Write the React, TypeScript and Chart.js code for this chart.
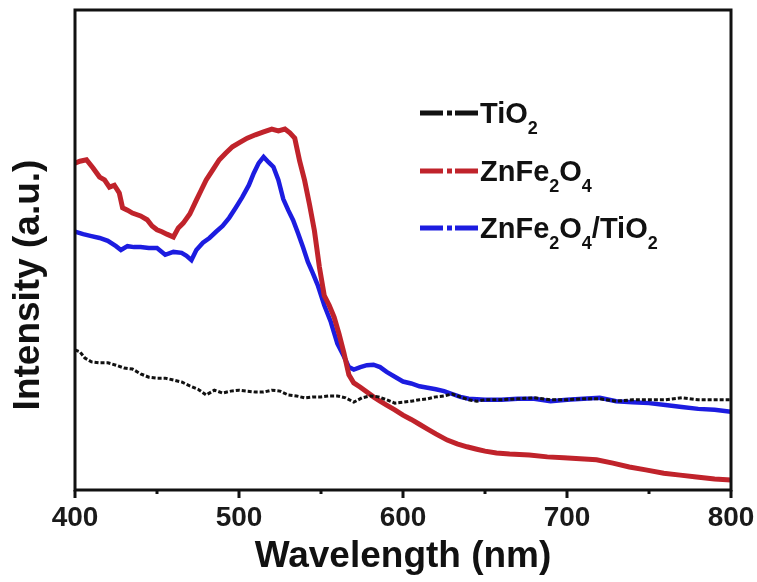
import React, { useEffect, useRef } from "react";
import { Chart, registerables } from "chart.js";
Chart.register(...registerables);

const FONT = '"Liberation Sans", Arial, sans-serif';

const xTitle = "Wavelength (nm)";
const yTitle = "Intensity (a.u.)";
const xMin = 400;
const xMax = 800;
const majorTicks = [400, 500, 600, 700, 800];
const minorTicks = [450, 550, 650, 750];

const tio2X = [400, 403, 406, 410, 415, 420, 425, 430, 435, 440, 445, 450, 455, 460, 465, 470, 475, 480, 485, 490, 495, 500, 505, 510, 515, 520, 525, 530, 535, 540, 545, 550, 555, 560, 565, 570, 575, 580, 585, 590, 595, 600, 605, 610, 615, 620, 625, 630, 635, 640, 645, 650, 660, 670, 680, 690, 700, 710, 720, 730, 740, 750, 760, 770, 780, 790, 800];
const tio2Y = [29.2, 28.8, 27.5, 26.7, 26.5, 26.5, 26.0, 25.4, 25.2, 24.2, 23.5, 23.3, 23.3, 22.9, 22.5, 21.7, 21.0, 19.8, 20.8, 20.2, 20.6, 20.8, 20.6, 20.4, 20.4, 20.8, 20.6, 19.8, 19.6, 19.2, 19.4, 19.4, 19.6, 19.6, 19.2, 18.3, 19.2, 19.6, 19.4, 18.8, 18.1, 18.3, 18.5, 18.8, 19.0, 19.4, 19.6, 20.0, 19.4, 18.8, 18.5, 18.8, 18.8, 19.0, 19.2, 18.8, 18.8, 19.0, 19.0, 18.5, 18.8, 18.8, 18.8, 19.2, 18.8, 18.8, 18.8];

const znfeX = [400, 403, 407, 411, 415, 418, 421, 424, 427, 429, 432, 435, 440, 444, 447, 450, 453, 456, 460, 463, 466, 470, 474, 477, 480, 484, 488, 492, 496, 500, 505, 510, 515, 520, 524, 528, 531, 534, 537, 540, 543, 546, 549, 552, 555, 558, 561, 564, 567, 570, 574, 578, 582, 586, 590, 595, 600, 605, 610, 615, 620, 627, 633, 639, 645, 650, 657, 665, 677, 688, 698, 708, 718, 728, 738, 748, 759, 769, 779, 790, 800];
const znfeY = [68.1, 68.5, 68.8, 67.1, 65.2, 64.6, 63.1, 63.5, 61.9, 58.8, 58.3, 57.7, 57.1, 56.3, 55.0, 54.2, 53.8, 53.3, 52.7, 54.6, 55.6, 57.5, 60.4, 62.5, 64.6, 66.7, 68.8, 70.2, 71.5, 72.3, 73.3, 74.0, 74.6, 75.2, 74.8, 75.2, 74.4, 73.3, 68.5, 64.5, 59.5, 54.0, 46.5, 40.5, 38.5, 36.0, 32.5, 28.5, 24.0, 22.3, 21.4, 20.4, 19.4, 18.5, 17.7, 16.7, 15.6, 14.7, 13.7, 12.7, 11.7, 10.4, 9.6, 9.0, 8.5, 8.1, 7.7, 7.5, 7.3, 6.9, 6.7, 6.5, 6.3, 5.6, 4.8, 4.2, 3.5, 3.1, 2.7, 2.3, 2.1];

const compX = [400, 405, 410, 415, 420, 425, 428, 432, 436, 440, 445, 450, 455, 460, 465, 468, 471, 474, 478, 482, 486, 490, 494, 498, 502, 506, 509, 512, 515, 518, 521, 524, 527, 530, 533, 536, 539, 542, 545, 548, 552, 556, 560, 564, 567, 570, 574, 578, 582, 586, 590, 595, 600, 605, 610, 615, 620, 625, 630, 635, 640, 650, 660, 670, 680, 690, 700, 710, 720, 730, 740, 750, 760, 770, 780, 790, 800];
const compY = [53.8, 53.3, 52.9, 52.5, 51.9, 50.8, 50.0, 50.8, 50.6, 50.6, 50.4, 50.4, 49.0, 49.6, 49.4, 48.8, 47.9, 50.0, 51.5, 52.5, 53.8, 55.0, 56.7, 58.8, 61.0, 63.5, 66.0, 68.1, 69.4, 68.3, 67.3, 64.6, 60.6, 58.3, 56.2, 53.5, 50.6, 47.5, 45.2, 42.7, 38.5, 35.0, 30.5, 27.8, 25.6, 25.1, 25.6, 26.0, 26.1, 25.6, 24.6, 23.6, 22.6, 22.2, 21.6, 21.3, 21.0, 20.6, 20.0, 19.4, 19.0, 18.8, 18.8, 19.0, 19.0, 18.5, 18.8, 19.0, 19.2, 18.5, 18.3, 18.1, 17.7, 17.3, 16.9, 16.7, 16.3];

const seriesNames = ["TiO2", "ZnFe2O4", "ZnFe2O4/TiO2"];
const seriesColors = ["#111111", "#c0232b", "#1c1ce0"];
// legend labels as [text, isSubscript] parts
const legendParts: [string, boolean][][] = [
  [["TiO", false], ["2", true]],
  [["ZnFe", false], ["2", true], ["O", false], ["4", true]],
  [["ZnFe", false], ["2", true], ["O", false], ["4", true], ["/TiO", false], ["2", true]],
];

function pts(xs: number[], ys: number[]) {
  return xs.map((x, i) => ({ x, y: ys[i] }));
}

const overlay = {
  id: "overlay",
  afterDraw(chart: any) {
    const { ctx, chartArea, scales } = chart;
    const xs = scales.x;
    ctx.save();
    // frame
    ctx.strokeStyle = "#111";
    ctx.lineWidth = 3;
    ctx.strokeRect(chartArea.left, chartArea.top, chartArea.right - chartArea.left, chartArea.bottom - chartArea.top);
    // ticks
    ctx.lineWidth = 3;
    majorTicks.forEach((v) => {
      const px = xs.getPixelForValue(v);
      ctx.beginPath();
      ctx.moveTo(px, chartArea.bottom);
      ctx.lineTo(px, chartArea.bottom + 8);
      ctx.stroke();
    });
    minorTicks.forEach((v) => {
      const px = xs.getPixelForValue(v);
      ctx.beginPath();
      ctx.moveTo(px, chartArea.bottom);
      ctx.lineTo(px, chartArea.bottom + 4);
      ctx.stroke();
    });
    // y title
    ctx.fillStyle = "#111";
    ctx.font = `bold 37px ${FONT}`;
    ctx.textAlign = "center";
    ctx.textBaseline = "middle";
    ctx.translate(29, 285);
    ctx.rotate(-Math.PI / 2);
    ctx.fillText(yTitle, 0, 0);
    ctx.restore();

    // legend
    ctx.save();
    const rowY = [113, 171, 228];
    legendParts.forEach((parts, i) => {
      const y = rowY[i];
      ctx.strokeStyle = seriesColors[i];
      ctx.lineWidth = 5;
      ctx.lineCap = "butt";
      ctx.beginPath();
      ctx.moveTo(420, y);
      ctx.lineTo(443, y);
      ctx.moveTo(447, y);
      ctx.lineTo(452, y);
      ctx.moveTo(455, y);
      ctx.lineTo(478, y);
      ctx.stroke();
      let x = 480;
      const base = y + 10;
      ctx.fillStyle = "#111";
      ctx.textAlign = "left";
      ctx.textBaseline = "alphabetic";
      parts.forEach(([t, sub]) => {
        if (sub) {
          ctx.font = `bold 18px ${FONT}`;
          ctx.fillText(t, x, base + 11);
        } else {
          ctx.font = `bold 29px ${FONT}`;
          ctx.fillText(t, x, base);
        }
        x += ctx.measureText(t).width;
      });
    });
    ctx.restore();
  },
};

export default function App() {
  const ref = useRef<HTMLCanvasElement>(null);
  useEffect(() => {
    if (!ref.current) return;
    const chart = new Chart(ref.current, {
      type: "line",
      data: {
        datasets: [
          {
            label: seriesNames[0],
            data: pts(tio2X, tio2Y),
            borderColor: seriesColors[0],
            borderWidth: 3,
            borderDash: [4, 2],
            pointRadius: 0,
            tension: 0,
          },
          {
            label: seriesNames[1],
            data: pts(znfeX, znfeY),
            borderColor: seriesColors[1],
            borderWidth: 5,
            pointRadius: 0,
            tension: 0,
          },
          {
            label: seriesNames[2],
            data: pts(compX, compY),
            borderColor: seriesColors[2],
            borderWidth: 4.5,
            pointRadius: 0,
            tension: 0,
          },
        ],
      },
      options: {
        responsive: false,
        animation: false,
        layout: { padding: { top: 10, right: 26, left: 75, bottom: 0 } },
        plugins: { legend: { display: false }, tooltip: { enabled: false } },
        scales: {
          x: {
            type: "linear",
            min: xMin,
            max: xMax,
            grid: { display: false, drawTicks: false },
            border: { display: false },
            ticks: {
              stepSize: 100,
              padding: 11,
              color: "#1a1a1a",
              font: { family: FONT, size: 28, weight: "bold" },
              maxRotation: 0,
              callback: (v: any) => String(v),
            },
            title: {
              display: true,
              text: xTitle,
              color: "#111",
              font: { family: FONT, size: 37, weight: "bold", lineHeight: 1.2 },
              padding: { top: 0, bottom: 3 },
            },
            afterFit: (s: any) => {
              s.height = 92;
              s.paddingLeft = 0;
              s.paddingRight = 0;
            },
          },
          y: { display: false, min: 0, max: 100 },
        },
      },
      plugins: [overlay],
    });
    return () => chart.destroy();
  }, []);
  return (
    <div style={{ position: "absolute", left: 0, top: 0, width: 757, height: 582, background: "#fff" }}>
      <canvas ref={ref} width={757} height={582} />
    </div>
  );
}
